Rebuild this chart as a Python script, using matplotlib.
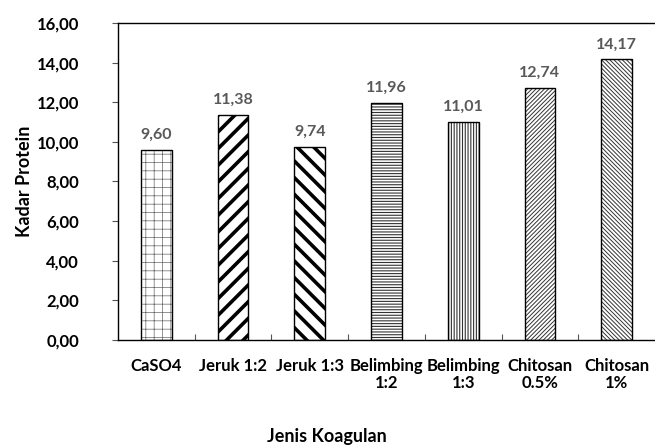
import matplotlib.pyplot as plt
from matplotlib.ticker import FuncFormatter, FixedLocator

categories = ["CaSO4", "Jeruk 1:2", "Jeruk 1:3", "Belimbing\n1:2", "Belimbing\n1:3",
              "Chitosan\n0.5%", "Chitosan\n1%"]
values = [9.60, 11.38, 9.74, 11.96, 11.01, 12.74, 14.17]
hatches = ["++", "//", "\\\\", "------", "||||||", "////////", "\\\\\\\\\\\\\\\\"]
hatch_lw = [0.5, 2.6, 2.6, 0.8, 0.8, 0.7, 0.7]
hatch_col = ["#666666", "black", "black", "#333333", "#333333", "#333333", "#333333"]

plt.rcParams['font.family'] = ['Lato', 'DejaVu Sans']

fig = plt.figure(figsize=(6.55, 4.48), dpi=100)
ax = fig.add_axes([118 / 655, 108 / 448, 537 / 655, 317 / 448])

x = list(range(len(categories)))
bars = ax.bar(x, values, width=0.4, color="white", edgecolor="black", linewidth=1.0)
for b, h, lw, c in zip(bars, hatches, hatch_lw, hatch_col):
    b.set_hatch(h)
    try:
        b.set_hatch_linewidth(lw)
    except AttributeError:
        pass
    b._hatch_color = plt.matplotlib.colors.to_rgba(c)

for xi, v in zip(x, values):
    ax.text(xi, v + 0.4, f"{v:.2f}".replace(".", ","), ha="center", va="bottom",
            fontsize=11.5, fontweight="bold", color="#595959")

ax.set_xlim(-0.5, len(categories) - 0.5)
ax.set_ylim(0, 16)
ax.set_yticks(range(0, 17, 2))
ax.yaxis.set_major_formatter(FuncFormatter(lambda v, p: f"{v:.2f}".replace(".", ",")))
ax.set_xticks(x)
ax.set_xticklabels(categories, linespacing=1.05)
ax.xaxis.set_minor_locator(FixedLocator([i + 0.5 for i in range(len(categories) - 1)]))
ax.tick_params(axis="x", which="major", length=0, pad=13)
ax.tick_params(axis="x", which="minor", direction="in", length=4, width=0.8, color="#555555")
ax.tick_params(axis="y", direction="out", length=4, width=0.8, color="#555555", pad=24)
for lbl in ax.get_xticklabels() + ax.get_yticklabels():
    lbl.set_fontweight("bold")
    lbl.set_fontsize(12)

ax.spines["right"].set_visible(False)
for s in ["left", "bottom", "top"]:
    ax.spines[s].set_linewidth(1.0)

ax.set_ylabel("Kadar Protein", fontsize=13, fontweight="bold", labelpad=3)
fig.text(327 / 655, 1 - 436 / 448, "Jenis Koagulan", ha="center", va="center",
         fontsize=13, fontweight="bold")

fig.savefig("out.png", dpi=100)
